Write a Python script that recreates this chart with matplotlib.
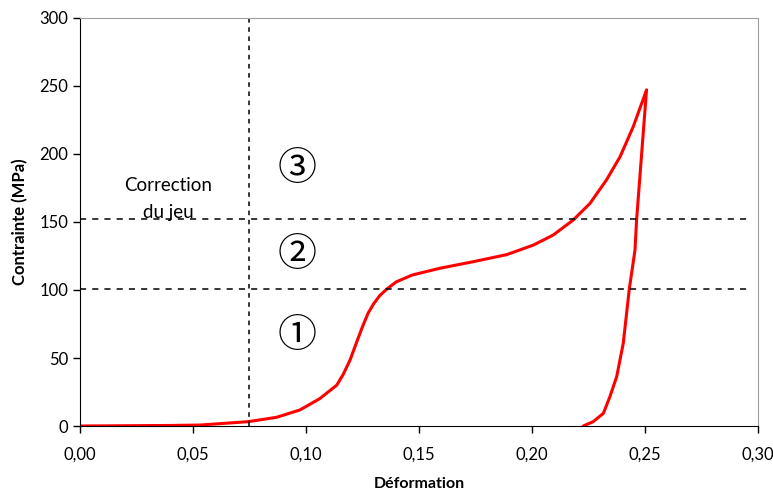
import matplotlib

matplotlib.use("Agg")
import matplotlib.pyplot as plt

# loading branch (strain, stress in MPa)
load_strain = [0.0, 0.02, 0.04, 0.053, 0.0745, 0.087, 0.0973, 0.106, 0.1136, 0.1165,
               0.1195, 0.1225, 0.125, 0.1275, 0.130, 0.1327, 0.136, 0.140, 0.147,
               0.1593, 0.174, 0.1888, 0.2006, 0.2094, 0.2183, 0.2257, 0.233, 0.239,
               0.2448, 0.2507]
load_stress = [0, 0.2, 0.4, 0.7, 3.2, 6.4, 11.8, 20, 30, 38,
               48.5, 62, 73, 83, 90, 96, 101, 106, 111,
               116, 120.8, 126, 133, 140.4, 151.5, 163.7, 181, 198,
               220, 247]

# unloading branch
unload_strain = [0.2507, 0.2463, 0.2456, 0.2431, 0.2404, 0.2375, 0.2345, 0.2316,
                 0.2271, 0.2227]
unload_stress = [247, 151.5, 129.4, 101, 60.8, 36.3, 21.6, 9.3, 3.2, 0]

gap_strain = 0.075
zone_limits = [101, 152]
zone_labels = ["\u2460", "\u2461", "\u2462"]
zone_label_y = [66, 126, 189]
x_ticks = [0.0, 0.05, 0.10, 0.15, 0.20, 0.25, 0.30]
y_ticks = [0, 50, 100, 150, 200, 250, 300]

plt.rcParams["font.family"] = ["Lato", "DejaVu Sans"]

fig = plt.figure(figsize=(7.73, 4.93), dpi=100)
ax = fig.add_axes([0.1035, 0.1359, 0.877, 0.8276])

ax.plot(load_strain, load_stress, color="#ff0000", lw=2.2,
        solid_joinstyle="round", solid_capstyle="round")
ax.plot(unload_strain, unload_stress, color="#ff0000", lw=2.2,
        solid_joinstyle="round", solid_capstyle="round")

ax.axvline(gap_strain, color="black", lw=1.1, ls=(0, (3, 3)))
for lim in zone_limits:
    ax.axhline(lim, color="black", lw=1.1, ls=(0, (4, 4)), xmax=0.99)

ax.text(0.039, 177, "Correction", ha="center", va="center", fontsize=13.5)
ax.text(0.039, 157, "du jeu", ha="center", va="center", fontsize=13.5)
for lab, yy in zip(zone_labels, zone_label_y):
    ax.text(0.096, yy, lab, ha="center", va="center", fontsize=28,
            family=["Noto Sans CJK JP", "DejaVu Sans"])

ax.set_xlim(0, 0.30)
ax.set_ylim(0, 300)
ax.set_xticks(x_ticks, labels=[f"{v:.2f}".replace(".", ",") for v in x_ticks])
ax.set_yticks(y_ticks)
ax.tick_params(direction="out", length=5, labelsize=12, width=1)
ax.tick_params(axis="x", pad=10)
for side in ["top", "right"]:
    ax.spines[side].set_color("#a0a0a0")
for side in ["left", "bottom"]:
    ax.spines[side].set_color("black")

ax.set_xlabel("Déformation", fontsize=11.5, fontweight="bold", labelpad=10.5)
ax.set_ylabel("Contrainte (MPa)", fontsize=12, fontweight="bold", labelpad=8)

fig.savefig("out.png", dpi=100)
